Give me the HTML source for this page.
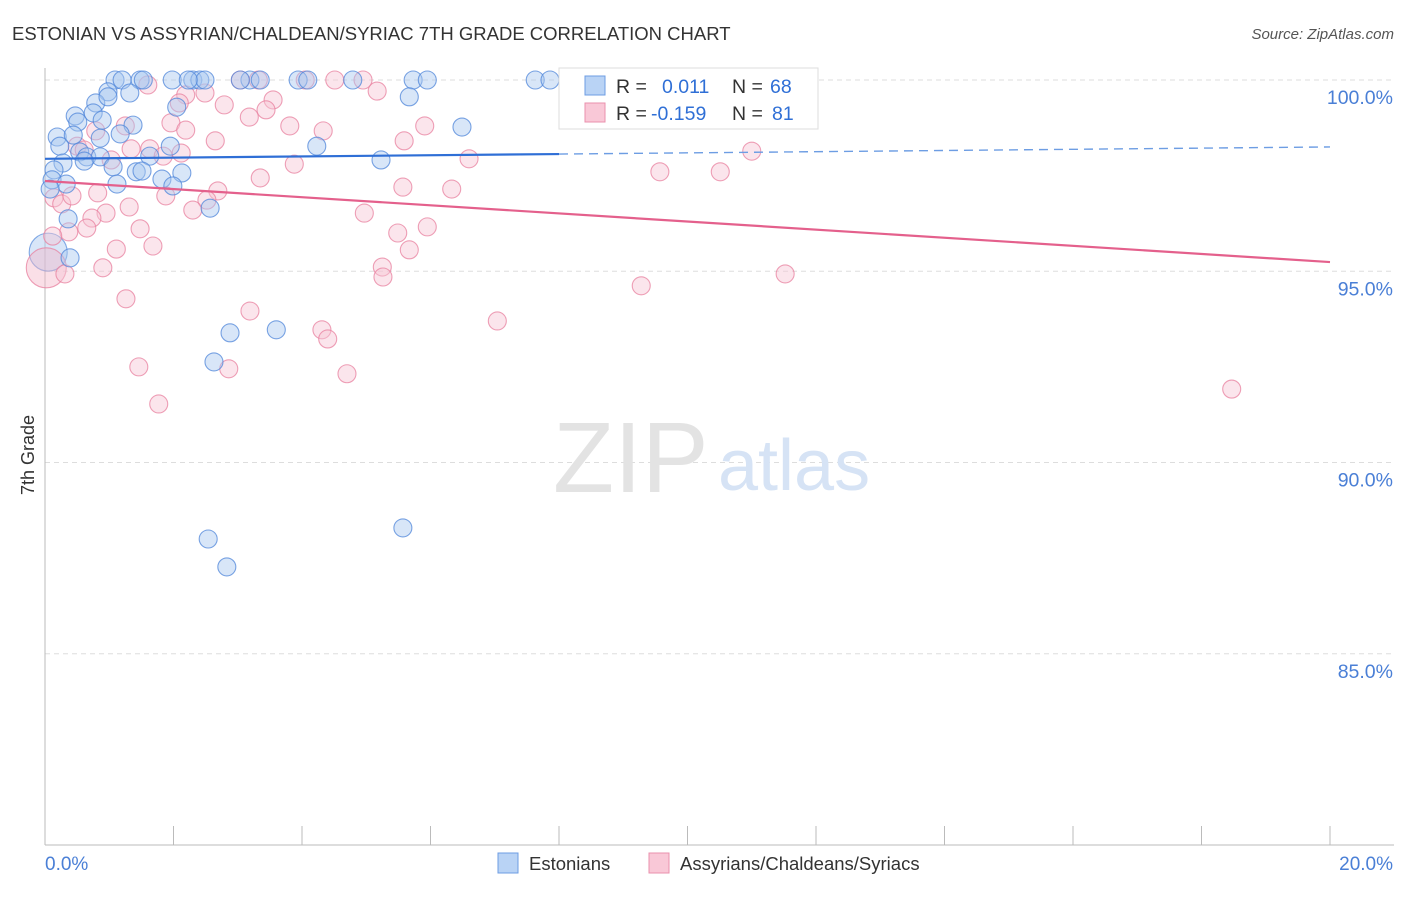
<!DOCTYPE html>
<html><head><meta charset="utf-8">
<style>
body{margin:0;background:#fff;font-family:"Liberation Sans",sans-serif;}
svg text{font-family:"Liberation Sans",sans-serif;}
</style></head>
<body>
<svg id="c" width="1406" height="892"></svg>
<script>
const blueX=[1.09,1.20,1.48,1.53,1.98,2.30,2.41,2.49,3.94,4.09,4.79,5.73,5.95,7.63,7.86,2.23,3.19,3.35,3.04,1.32,0.98,0.79,0.98,2.05,5.67,0.47,0.75,0.51,0.89,1.37,0.19,0.44,0.86,1.17,0.23,6.49,4.23,1.95,0.54,0.65,0.86,1.63,0.61,0.28,5.23,1.06,0.14,1.42,1.51,1.82,2.13,1.12,1.99,0.11,0.33,0.08,0.36,2.57,0.39,2.88,3.60,2.63,2.54,2.83,5.57];
const blueY=[100,100,100,100,100,100,100,100,100,100,100,100,100,100,100,100,100,100,100,99.66,99.69,99.40,99.56,99.29,99.56,99.06,99.14,98.90,98.95,98.82,98.51,98.56,98.48,98.59,98.27,98.77,98.27,98.27,98.12,97.99,97.99,98.01,97.88,97.83,97.91,97.73,97.65,97.60,97.62,97.41,97.57,97.28,97.23,97.39,97.28,97.15,96.37,96.65,95.35,93.39,93.47,92.63,88.00,87.27,88.29];
const pinkX=[3.04,3.32,4.05,4.51,4.95,1.60,2.49,2.19,5.17,2.09,2.79,3.55,3.44,3.18,8.87,1.96,2.19,1.25,0.79,3.81,4.33,5.91,5.59,2.65,0.50,0.61,1.03,1.34,1.63,2.12,1.84,3.88,6.60,11.00,9.57,10.51,3.35,5.57,6.33,2.69,0.82,0.14,0.26,0.42,1.88,2.52,1.31,2.30,0.95,4.97,0.73,0.37,0.65,1.48,5.95,5.49,0.12,1.11,1.68,5.67,0.90,0.31,5.25,5.26,11.52,9.28,1.26,3.19,7.04,4.31,4.40,1.46,2.86,4.70,1.77,18.47];
const pinkY=[100,100,100,100,100,99.87,99.66,99.61,99.71,99.40,99.35,99.48,99.22,99.03,99.01,98.88,98.69,98.80,98.67,98.80,98.67,98.80,98.41,98.41,98.27,98.17,97.91,98.20,98.20,98.09,98.01,97.80,97.94,98.14,97.60,97.60,97.44,97.20,97.15,97.10,97.05,96.92,96.76,96.97,96.97,96.86,96.68,96.60,96.52,96.52,96.39,96.03,96.13,96.11,96.16,96.00,95.92,95.58,95.66,95.56,95.09,94.93,95.11,94.85,94.93,94.62,94.28,93.96,93.70,93.47,93.23,92.50,92.45,92.32,91.53,91.92];
const bigBlue=[0.05,95.5], bigPink=[0.02,95.09];
const blueTrend=[97.94,98.25], pinkTrend=[97.36,95.24];
const yTicks=[100,95,90,85];
const yTickLabels=["100.0%","95.0%","90.0%","85.0%"];
const xTicks=[0,2,4,6,8,10,12,14,16,18,20];

const X0=45,X1=1330,YT=80,YB=845;
const sx=v=>X0+(v/20)*(X1-X0);
const sy=v=>YT+(100-v)/20*(YB-YT);
const svg=document.getElementById('c');
const NS="http://www.w3.org/2000/svg";
function mk(t,a,p){const e=document.createElementNS(NS,t);for(const k in a)e.setAttribute(k,a[k]);(p||svg).appendChild(e);return e;}
function tx(x,y,s,a){const e=mk('text',Object.assign({x:x,y:y},a));e.textContent=s;return e;}

let t=tx(12,40,"ESTONIAN VS ASSYRIAN/CHALDEAN/SYRIAC 7TH GRADE CORRELATION CHART",{'font-size':18.5,fill:'#333'});


t=tx(1394,39,"Source: ZipAtlas.com",{'font-size':15,fill:'#555','text-anchor':'end','font-style':'italic'});



yTicks.forEach((v,i)=>{
 const g=mk('line',{x1:X0,x2:1394,y1:sy(v),y2:sy(v),stroke:'#ddd','stroke-dasharray':'5,4'});
 
 
 const l=tx(1393,sy(v)+24,yTickLabels[i],{'font-size':19.5,fill:'#4a7fd6','text-anchor':'end'});
 
 
});
let ax=mk('line',{x1:X0,x2:X0,y1:68,y2:YB,stroke:'#bbb'});


ax=mk('line',{x1:X0,x2:1394,y1:YB,y2:YB,stroke:'#bbb'});


xTicks.forEach(v=>{
 const k=mk('line',{x1:sx(v),x2:sx(v),y1:826,y2:YB,stroke:'#bbb'});
 
 
});
t=tx(45,870,"0.0%",{'font-size':19,fill:'#4a7fd6'});


t=tx(1393,870,"20.0%",{'font-size':19,fill:'#4a7fd6','text-anchor':'end'});


t=tx(34,455,"7th Grade",{'font-size':18,fill:'#333','text-anchor':'middle',transform:'rotate(-90 34 455)'});



t=tx(553,492,"ZIP",{'font-size':100,fill:'#e3e3e3','font-family':'Liberation Serif'});


t=tx(718,490,"atlas",{'font-size':72,fill:'#d6e3f5'});



function dot(x,y,r,fill,stroke,name){
 const c=mk('circle',{cx:sx(x),cy:sy(y),r:r,fill:fill,'fill-opacity':0.45,stroke:stroke,'stroke-width':1.1,'stroke-opacity':0.75});
 
 
}
dot(bigBlue[0],bigBlue[1],19,'#a9c7f0','#5b8fdc','estonian-point');
dot(bigPink[0],bigPink[1],20,'#f4b8c9','#e8809f','assyrian-point');
pinkX.forEach((x,i)=>dot(x,pinkY[i],9,'#f7c6d4','#e8809f','assyrian-point'));
blueX.forEach((x,i)=>dot(x,blueY[i],9,'#a9c7f0','#4f86d9','estonian-point'));

const bAt=v=>blueTrend[0]+(blueTrend[1]-blueTrend[0])*v/20;
let ln=mk('line',{x1:sx(0),y1:sy(bAt(0)),x2:sx(8),y2:sy(bAt(8)),stroke:'#2f6fd6','stroke-width':2.2});


ln=mk('line',{x1:sx(8),y1:sy(bAt(8)),x2:sx(20),y2:sy(bAt(20)),stroke:'#6d9de3','stroke-width':1.4,'stroke-dasharray':'9,6'});


ln=mk('line',{x1:sx(0),y1:sy(pinkTrend[0]),x2:sx(20),y2:sy(pinkTrend[1]),stroke:'#e4608c','stroke-width':2.2});



const lg=mk('g',{});


mk('rect',{x:559,y:68,width:259,height:61,fill:'#fff',stroke:'#ddd'},lg);
mk('rect',{x:585,y:76,width:20,height:19,fill:'#b9d3f5',stroke:'#6d9de3'},lg);
mk('rect',{x:585,y:103,width:20,height:19,fill:'#f9c8d7',stroke:'#ea90ac'},lg);
[["R = ",616,93,'#333'],["0.011",662,93,'#2f6fd6'],["N = ",732,93,'#333'],["68",770,93,'#2f6fd6'],
 ["R = ",616,120,'#333'],["-0.159",651,120,'#2f6fd6'],["N = ",732,120,'#333'],["81",772,120,'#2f6fd6']].forEach(a=>{
 const e=tx(a[1],a[2],a[0],{'font-size':19.5,fill:a[3]},);lg.appendChild(e);
 
 
});

const b1=mk('rect',{x:498,y:853,width:20,height:20,fill:'#b9d3f5',stroke:'#6d9de3'});


t=tx(529,870,"Estonians",{'font-size':18.5,fill:'#333'});


const b2=mk('rect',{x:649,y:853,width:20,height:20,fill:'#f9c8d7',stroke:'#ea90ac'});


t=tx(680,870,"Assyrians/Chaldeans/Syriacs",{'font-size':18.5,fill:'#333'});


</script>
</body></html>
